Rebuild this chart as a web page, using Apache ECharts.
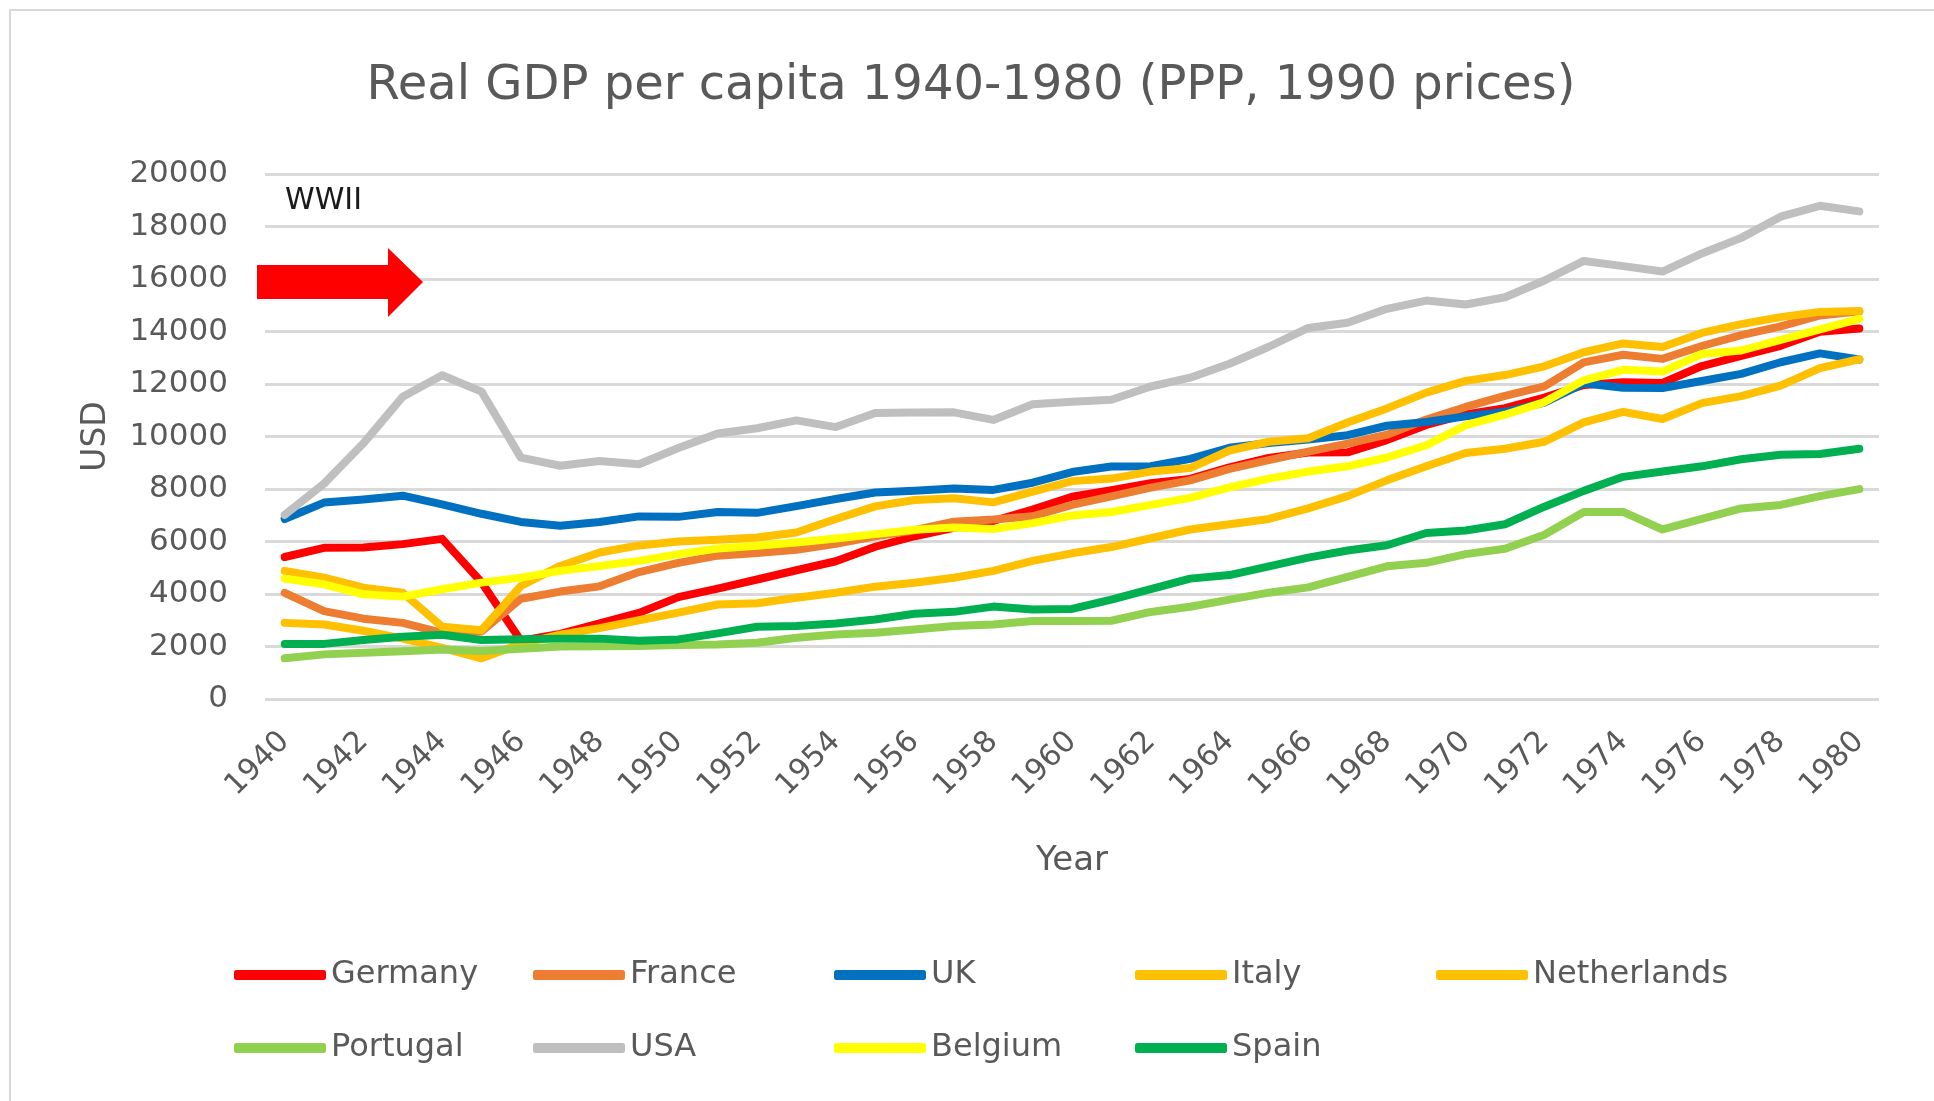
<!DOCTYPE html>
<html>
<head>
<meta charset="utf-8">
<title>Real GDP per capita 1940-1980</title>
<script src="https://cdn.jsdelivr.net/npm/echarts@6/dist/echarts.min.js"></script>
<style>
  html, body { margin: 0; padding: 0; background: #fff; }
  #main { width: 1934px; height: 1101px; }
</style>
</head>
<body>
<div id="main"></div>
<script>
// years on the category axis
var years = [];
for (var y = 1940; y <= 1980; y++) {
    years.push(String(y));
}

// series names, same order as the legend
var countries = ['Germany', 'France', 'UK', 'Italy', 'Netherlands', 'Portugal', 'USA', 'Belgium', 'Spain'];

// values, 1940..1980
var germany = [5410, 5760, 5770, 5900, 6100, 4450, 2220, 2480, 2880, 3280, 3880,
    4207, 4553, 4905, 5247, 5800, 6200, 6520, 6780, 7220, 7705,
    7952, 8222, 8386, 8822, 9186, 9388, 9397, 9864, 10440, 10839,
    11077, 11481, 11966, 12063, 12041, 12684, 13072, 13455, 13993, 14114];
var france = [4042, 3350, 3060, 2900, 2520, 2573, 3819, 4092, 4291, 4837, 5186,
    5461, 5564, 5684, 5915, 6199, 6430, 6751, 6839, 6963, 7398,
    7718, 8054, 8329, 8768, 9102, 9425, 9729, 10068, 10644, 11126,
    11549, 11909, 12824, 13114, 12957, 13448, 13859, 14198, 14609, 14766];
var uk = [6856, 7482, 7599, 7745, 7415, 7056, 6746, 6604, 6746, 6956, 6939,
    7123, 7091, 7346, 7619, 7868, 7929, 8017, 7966, 8240, 8645,
    8857, 8865, 9149, 9568, 9752, 9885, 10049, 10410, 10552, 10767,
    10941, 11294, 12025, 11858, 11847, 12115, 12384, 12828, 13167, 12931];
var italy = [2900, 2840, 2600, 2300, 1950, 1550, 2100, 2450, 2700, 3000, 3290,
    3600, 3650, 3860, 4050, 4280, 4430, 4620, 4880, 5260, 5550,
    5789, 6123, 6458, 6658, 6859, 7260, 7728, 8330, 8864, 9370,
    9533, 9800, 10536, 10937, 10669, 11271, 11538, 11939, 12608, 12942];
var netherlands = [4880, 4625, 4242, 4051, 2750, 2620, 4306, 5070, 5580, 5850, 6000,
    6064, 6153, 6345, 6854, 7338, 7580, 7644, 7491, 7899, 8300,
    8396, 8664, 8797, 9466, 9800, 9934, 10536, 11070, 11672, 12120,
    12340, 12675, 13210, 13544, 13410, 13945, 14279, 14547, 14747, 14780];
var portugal = [1550, 1700, 1760, 1820, 1890, 1830, 1910, 2000, 2010, 2020, 2060,
    2077, 2140, 2330, 2460, 2520, 2650, 2780, 2840, 2970, 2970,
    2981, 3316, 3516, 3784, 4051, 4252, 4653, 5054, 5188, 5520,
    5722, 6257, 7126, 7126, 6458, 6859, 7260, 7394, 7728, 7995];
var usa = [7010, 8206, 9741, 11518, 12333, 11709, 9197, 8886, 9065, 8944, 9561,
    10116, 10316, 10613, 10359, 10897, 10914, 10920, 10631, 11230, 11328,
    11402, 11905, 12242, 12773, 13419, 14134, 14330, 14863, 15179, 15030,
    15304, 15944, 16689, 16491, 16284, 16975, 17567, 18373, 18789, 18577];
var belgium = [4586, 4370, 3988, 3900, 4180, 4433, 4624, 4880, 5070, 5262, 5520,
    5733, 5835, 5962, 6115, 6281, 6446, 6536, 6472, 6701, 6990,
    7126, 7394, 7661, 8062, 8396, 8664, 8864, 9199, 9667, 10430,
    10830, 11311, 12140, 12541, 12474, 13143, 13276, 13678, 14079, 14480];
var spain = [2100, 2100, 2250, 2370, 2450, 2250, 2280, 2300, 2300, 2220, 2270,
    2500, 2750, 2780, 2880, 3030, 3250, 3320, 3520, 3410, 3430,
    3784, 4185, 4586, 4720, 5054, 5388, 5655, 5856, 6324, 6420,
    6658, 7327, 7928, 8463, 8664, 8864, 9132, 9306, 9332, 9533];

var seriesData = [germany, france, uk, italy, netherlands, portugal, usa, belgium, spain];
var colors = ['#FF0000', '#ED7D31', '#0070C0', '#FFC000', '#FFC000', '#92D050', '#BFBFBF', '#FFFF00', '#00B050'];

var font = 'DejaVu Sans';
var textGray = '#595959';

// legend sits in a 5 column grid, two rows
var legendCols = [234, 533, 834, 1135, 1436];
var legendRows = [978, 1051];

var legends = [];
var series = [];
for (var i = 0; i < countries.length; i++) {
    legends.push({
        data: [countries[i]],
        left: legendCols[i % 5],
        top: legendRows[Math.floor(i / 5)] - 19,
        padding: 0,
        icon: 'roundRect',
        itemWidth: 92,
        itemHeight: 10,
        selectedMode: false,
        textStyle: { fontFamily: font, fontSize: 32, color: textGray }
    });
    series.push({
        name: countries[i],
        type: 'line',
        data: seriesData[i],
        symbol: 'none',
        showSymbol: false,
        color: colors[i],
        itemStyle: { color: colors[i] },
        lineStyle: { color: colors[i], width: 8, cap: 'round', join: 'round' }
    });
}

var option = {
    backgroundColor: '#ffffff',
    animation: false,
    title: {
        text: 'Real GDP per capita 1940-1980 (PPP, 1990 prices)',
        left: 971,
        top: 63,
        padding: 0,
        textAlign: 'center',
        textStyle: { fontFamily: font, fontSize: 48, fontWeight: 'normal', color: textGray }
    },
    legend: legends,
    grid: { left: 265, right: 55, top: 174, bottom: 402 },
    xAxis: {
        type: 'category',
        data: years,
        boundaryGap: true,
        axisLine: { show: false },
        axisTick: { show: false },
        axisLabel: {
            interval: 1,
            rotate: 45,
            margin: 38,
            padding: [76, 0, 0, 0],
            fontFamily: font,
            fontSize: 30,
            color: textGray
        },
        name: 'Year',
        nameLocation: 'middle',
        nameGap: 145,
        nameTextStyle: { fontFamily: font, fontSize: 34, color: textGray }
    },
    yAxis: {
        type: 'value',
        min: 0,
        max: 20000,
        interval: 2000,
        axisLine: { show: false },
        axisTick: { show: false },
        axisLabel: {
            margin: 37,
            fontFamily: font,
            fontSize: 31,
            color: textGray,
            formatter: function(v) { return String(v); }
        },
        splitLine: { lineStyle: { color: '#D9D9D9', width: 3 } },
        name: 'USD',
        nameLocation: 'middle',
        nameGap: 152,
        nameTextStyle: { fontFamily: font, fontSize: 33, color: textGray }
    },
    graphic: [
        {
            // outer chart frame
            type: 'rect',
            shape: { x: 10, y: 10, width: 1940, height: 1120 },
            style: { fill: 'none', stroke: '#D9D9D9', lineWidth: 2 },
            silent: true
        },
        {
            type: 'text',
            left: 285,
            top: 186,
            z: 100,
            style: { text: 'WWII', fontFamily: font, fontSize: 30, fill: '#1a1a1a' }
        },
        {
            // red arrow, drawn over the gridlines
            type: 'polygon',
            z: 100,
            shape: { points: [[257, 265], [388, 265], [388, 248], [423, 282], [388, 317], [388, 299], [257, 299]] },
            style: { fill: '#FF0000' }
        }
    ],
    series: series
};

var chart = echarts.init(document.getElementById('main'));
chart.setOption(option);
</script>
</body>
</html>
